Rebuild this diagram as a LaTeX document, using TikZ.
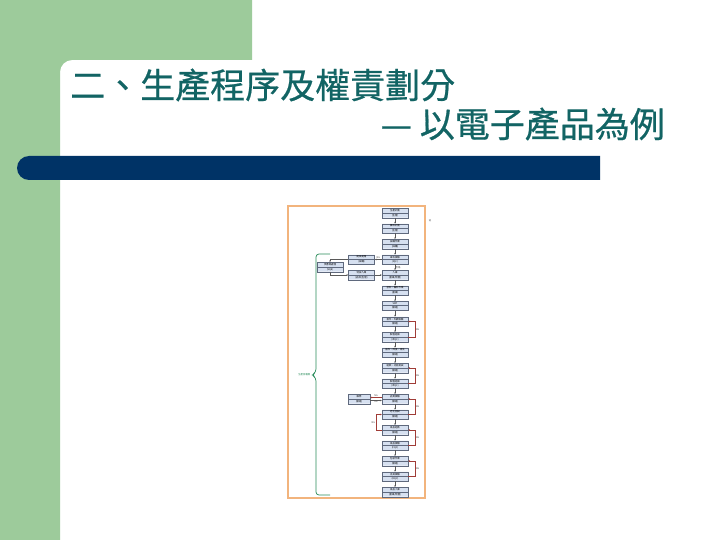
\documentclass[tikz,border=0pt]{standalone}
\usepackage{fontspec}
\newfontfamily\cjk{Noto Sans CJK TC}
\newfontfamily\cjktitle[FakeBold=0.6]{Noto Sans CJK TC}
\usetikzlibrary{shapes.multipart,arrows.meta}
\definecolor{sideGreen}{RGB}{157,203,155}
\definecolor{barBlue}{RGB}{0,51,102}
\definecolor{titleTeal}{RGB}{18,100,100}
\definecolor{boxFill}{RGB}{214,224,240}
\definecolor{boxLine}{RGB}{95,105,125}
\definecolor{frameOrange}{RGB}{242,180,125}
\definecolor{loopRed}{RGB}{160,60,55}
\definecolor{braceGreen}{RGB}{40,140,90}
\tikzstyle{titleText}=[inner sep=0pt, text=titleTeal, font=\cjktitle\fontsize{35}{40}\selectfont]
\tikzstyle{procNode}=[draw=boxLine, fill=boxFill, line width=0.35pt, rectangle split, rectangle split parts=2, minimum width=26pt, inner xsep=0.5pt, inner ysep=1pt, font=\cjk\fontsize{2.4}{2.8}\selectfont]
\tikzstyle{flowArrow}=[-{Stealth[length=1.8pt,width=1.5pt]}, line width=0.35pt, draw=black!65]
\tikzstyle{ngLoop}=[-{Stealth[length=1.8pt,width=1.5pt]}, line width=0.6pt, draw=loopRed]
\tikzstyle{flowLabel}=[inner sep=0.5pt, text=black!70, font=\cjk\fontsize{2.4}{2.8}\selectfont]

\begin{document}
\begin{tikzpicture}[x=1pt,y=-1pt]
	\useasboundingbox (0,0) rectangle (720,540);
	\fill[white] (0,0) rectangle (720,540);

	% slide background
	\fill[sideGreen] (0,0) -- (252,0) -- (252,60) -- (72,60) arc[start angle=270, end angle=180, radius=12] -- (60,540) -- (0,540) -- cycle;
	\fill[barBlue] (600,156) -- (29,156) arc[start angle=270, end angle=90, radius=12] -- (600,180) -- cycle;

	\node[titleText, anchor=west] (title) at (70,85) {二、生產程序及權責劃分};
	\node[titleText, anchor=east] (subtitle) at (665,124) {— 以電子產品為例};

	% flow chart
	\draw[frameOrange, line width=1.4pt] (288,206) rectangle (425,498);
	\node[flowLabel] (note) at (430,221) {註};

	\node[procNode] (m1) at (395,213) {生產計劃\nodepart{two}(生管)};
	\node[procNode] (m2) at (395,228.5) {備料計劃\nodepart{two}(生管)};
	\node[procNode] (m3) at (395,244) {採購作業\nodepart{two}(採購)};
	\node[procNode] (m4) at (395,259.5) {來料檢驗\nodepart{two}(IQC)};
	\node[procNode] (m5) at (395,275) {入庫\nodepart{two}(倉庫/物管)};
	\node[procNode] (m6) at (395,290.5) {發料、備料作業\nodepart{two}(倉庫)};
	\node[procNode] (m7) at (395,306) {SMT\nodepart{two}(製造)};
	\node[procNode] (m8) at (395,321.5) {首件、外觀檢驗\nodepart{two}(製造)};
	\node[procNode] (m9) at (395,337) {製程巡檢\nodepart{two}(IPQC)};
	\node[procNode] (m10) at (395,352.5) {插件、焊接、清洗\nodepart{two}(製造)};
	\node[procNode] (m11) at (395,368) {組裝、功能測試\nodepart{two}(製造)};
	\node[procNode] (m12) at (395,383.5) {製程巡檢\nodepart{two}(IPQC)};
	\node[procNode] (m13) at (395,399) {品質檢驗\nodepart{two}(製造)};
	\node[procNode] (m14) at (395,414.5) {老化測試\nodepart{two}(製造)};
	\node[procNode] (m15) at (395,430) {成品組裝\nodepart{two}(製造)};
	\node[procNode] (m16) at (395,445.5) {成品檢驗\nodepart{two}(FQC)};
	\node[procNode] (m17) at (395,461) {包裝作業\nodepart{two}(製造)};
	\node[procNode] (m18) at (395,476.5) {出貨檢驗\nodepart{two}(OQC)};
	\node[procNode] (m19) at (395,492) {成品入庫\nodepart{two}(倉庫/物管)};

	\node[procNode] (r1) at (361.5,259.5) {退貨處理\nodepart{two}(採購)};
	\node[procNode] (r2) at (361.5,275) {特採入庫\nodepart{two}(品保/生管)};
	\node[procNode] (f1) at (330,267) {供應商處理\nodepart{two}(SQE)};
	\node[procNode, minimum width=22pt] (rp) at (359,399) {維修\nodepart{two}(製造)};

	\draw[flowArrow] (m1) -- (m2);
	\draw[flowArrow] (m2) -- (m3);
	\draw[flowArrow] (m3) -- (m4);
	\draw[flowArrow] (m4) -- node[right, flowLabel] {合格} (m5);
	\draw[flowArrow] (m5) -- (m6);
	\draw[flowArrow] (m6) -- (m7);
	\draw[flowArrow] (m7) -- (m8);
	\draw[flowArrow] (m8) -- (m9);
	\draw[flowArrow] (m9) -- (m10);
	\draw[flowArrow] (m10) -- (m11);
	\draw[flowArrow] (m11) -- (m12);
	\draw[flowArrow] (m12) -- (m13);
	\draw[flowArrow] (m13) -- (m14);
	\draw[flowArrow] (m14) -- (m15);
	\draw[flowArrow] (m15) -- (m16);
	\draw[flowArrow] (m16) -- (m17);
	\draw[flowArrow] (m17) -- (m18);
	\draw[flowArrow] (m18) -- (m19);

	\draw[flowArrow] (m4.west) -- node[above, flowLabel] {NG} (r1.east);
	\draw[flowArrow] (r1.west) -| (f1.north);
	\draw[flowArrow] (f1.south) |- (r2.west);
	\draw[flowArrow] (r2.east) -- (m5.west);

	\draw[ngLoop] ([yshift=1.5pt]m13.west) -- node[above, flowLabel] {NG} ([yshift=1.5pt]rp.east);
	\draw[flowArrow] ([yshift=-1.5pt]rp.east) -- node[below, flowLabel] {OK} ([yshift=-1.5pt]m13.west);

	\draw[ngLoop] (m9.east) -- ++(7,0) |- node[pos=0.25, right, flowLabel] {NG} (m8.east);
	\draw[ngLoop] (m12.east) -- ++(7,0) |- node[pos=0.25, right, flowLabel] {NG} (m11.east);
	\draw[ngLoop] (m14.east) -- ++(7,0) |- node[pos=0.25, right, flowLabel] {NG} (m13.east);
	\draw[ngLoop] (m16.east) -- ++(7,0) |- node[pos=0.25, right, flowLabel] {NG} (m15.east);
	\draw[ngLoop] (m18.east) -- ++(7,0) |- node[pos=0.25, right, flowLabel] {NG} (m17.east);
	\draw[ngLoop] (m15.west) -- ++(-6,0) |- node[pos=0.25, left, flowLabel] {NG} (m14.west);

	% scope of the production line
	\draw[braceGreen, line width=0.7pt, rounded corners=3pt] (330,254) -| (316,372) -- (312,375) -- (316,378) |- (330,495);
	\node[flowLabel, text=braceGreen, anchor=east] (scope) at (311,375) {生產部權責};
\end{tikzpicture}
\end{document}
